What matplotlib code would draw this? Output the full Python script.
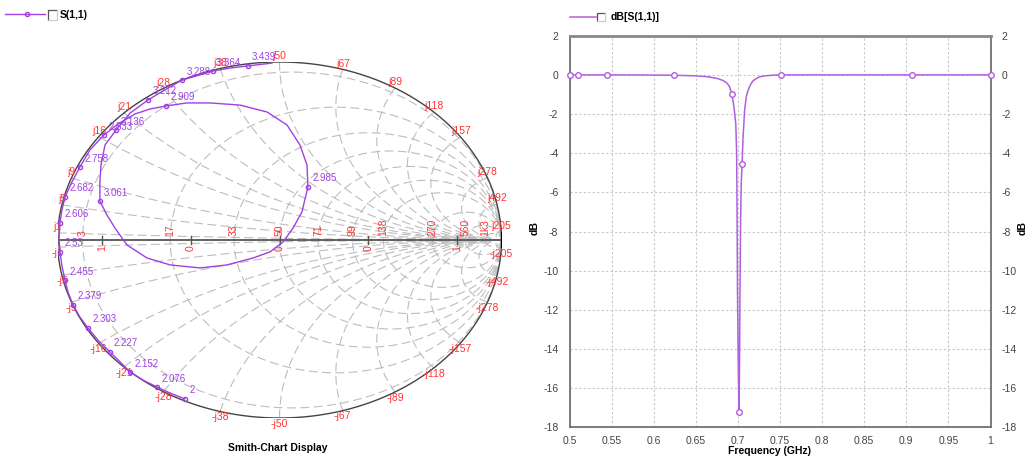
import numpy as np
import matplotlib
matplotlib.use("Agg")
import matplotlib.pyplot as plt
from matplotlib.lines import Line2D

plt.rcParams['font.family'] = ['Liberation Sans', 'DejaVu Sans']
plt.rcParams['axes.unicode_minus'] = False

# Smith chart grid (normalised to 50 ohm) and its labels
res_values = [0.06, 0.34, 0.66, 1.0, 1.42, 1.98, 2.76, 5.4, 11.2, 26.0]
res_labels = ["3", "17", "33", "50", "71", "99", "138", "270", "560", "1k3"]
react_values = [0.02, 0.1, 0.18, 0.32, 0.42, 0.56, 0.76, 1.0, 1.34, 1.78, 2.36, 3.14, 5.56, 9.84, 41.0]
react_labels = ["1", "5", "9", "16", "21", "28", "38", "50", "67", "89", "118", "157", "278", "492", "205"]
gamma_ticks = [-0.8, -0.4, 0.0, 0.4, 0.8]
gamma_tick_labels = ["1", "0", "0", "0", "1"]

# S(1,1) trace on the Smith chart (reflection coefficient)
s11_re = [-0.426, -0.493, -0.552, -0.615, -0.673, -0.718, -0.764, -0.818, -0.863, -0.899, -0.930,
          -0.953, -0.966, -0.980, -0.989, -0.993, -0.989, -0.980, -0.966, -0.935, -0.899,
          -0.854, -0.791, -0.727, -0.651, -0.583, -0.511,
          -0.417, -0.313, -0.178, -0.056, 0.034, 0.092, 0.124, 0.128, 0.101, 0.061, 0.016,
          -0.043, -0.119, -0.236, -0.358, -0.493, -0.597, -0.687, -0.741, -0.777, -0.809,
          -0.809, -0.804, -0.786, -0.736, -0.673, -0.592, -0.525, -0.439, -0.376, -0.300,
          -0.223, -0.142, -0.034]
s11_im = [-0.893, -0.860, -0.826, -0.787, -0.742, -0.685, -0.629, -0.562, -0.494, -0.433, -0.365,
          -0.292, -0.225, -0.146, -0.067, 0.011, 0.096, 0.169, 0.242, 0.326, 0.410,
          0.506, 0.590, 0.652, 0.708, 0.736, 0.753,
          0.770, 0.770, 0.758, 0.719, 0.646, 0.534, 0.421, 0.298, 0.157, 0.067, -0.011,
          -0.067, -0.101, -0.140, -0.157, -0.140, -0.101, -0.028, 0.067, 0.140, 0.219,
          0.326, 0.421, 0.534, 0.618, 0.713, 0.787, 0.837, 0.899, 0.921, 0.949,
          0.966, 0.978, 0.994]
marker_idx = [0, 2, 4, 6, 8, 10, 12, 14, 16, 18, 20, 22, 26, 34, 47, 51, 53, 55, 57, 59]
marker_labels = ["2", "2.076", "2.152", "2.227", "2.303", "2.379", "2.455", "2.53", "2.606",
                 "2.682", "2.758", "2.833", "2.909", "2.985", "3.061", "3.136", "3.212",
                 "3.288", "3.364", "3.439"]

# dB[S(1,1)] versus frequency
freq_ghz = [0.500, 0.510, 0.544, 0.600, 0.624, 0.650, 0.665, 0.675, 0.682, 0.687, 0.690, 0.693,
            0.6955, 0.6975, 0.6985, 0.699, 0.6995, 0.7005, 0.7012, 0.7018, 0.7025, 0.7032,
            0.704, 0.705, 0.706, 0.708, 0.710, 0.712, 0.715, 0.718, 0.724, 0.730, 0.740,
            0.751, 0.800, 0.850, 0.907, 0.950, 1.000]
s11_db = [0, 0, 0, -0.01, -0.02, -0.05, -0.1, -0.18, -0.28, -0.42, -0.6, -1.0,
          -1.7, -2.5, -4.0, -7.0, -11.0, -15.0, -17.2, -15.5, -11.0, -7.5,
          -5.5, -4.55, -3.3, -1.8, -1.1, -0.8, -0.5, -0.3, -0.13, -0.06, -0.02,
          0, 0, 0, 0, 0, 0]
db_marker_idx = [0, 1, 2, 4, 11, 18, 23, 33, 36, 38]

W, H = 1027, 459
PURPLE = '#a040e0'
PURPLE_DB = '#b060dd'
RED = '#ff3333'
GRID = '#bdbdbd'


def fx(px):
    return px / W


def fy(py):
    return 1 - py / H


def gamma(z):
    return (z - 1) / (z + 1)


fig = plt.figure(figsize=(W / 100, H / 100), dpi=100)

# ---------------- Smith chart ----------------
ax = fig.add_axes([fx(57.5), fy(418), 444 / W, 356 / H])
ax.set_xlim(-1, 1)
ax.set_ylim(-1, 1)
ax.axis('off')

s = np.linspace(-np.pi / 2 + 1e-4, np.pi / 2 - 1e-4, 600)
for r in res_values:
    g = gamma(r + 1j * np.tan(s))
    ax.plot(g.real, g.imag, color=GRID, lw=0.8, dashes=(8, 4), zorder=1)

t = np.linspace(0, np.pi / 2 - 1e-4, 600)
for x in react_values:
    for sign in (1, -1):
        g = gamma(np.tan(t) + 1j * sign * x)
        ax.plot(g.real, g.imag, color=GRID, lw=0.8, dashes=(8, 4), zorder=1)

th = np.linspace(0, 2 * np.pi, 720)
ax.plot(np.cos(th), np.sin(th), color='#444444', lw=1.0, zorder=2)
ax.plot([-1, 1], [0, 0], color='#555555', lw=1.3, zorder=2)
ax.plot([1, 1], [-0.04, 0.04], color='black', lw=1.5, zorder=2)
ax.plot([-1, -1], [-0.03, 0.03], color='#555555', lw=1.2, zorder=2)
for gt in gamma_ticks:
    ax.plot([gt, gt], [-0.02, 0.02], color='#555555', lw=1.0, zorder=2)

for r, lbl in zip(res_values, res_labels):
    ax.annotate(lbl, (gamma(r), 0), xytext=(0, 3), textcoords='offset points',
                rotation=90, ha='center', va='bottom', fontsize=7.5, color=RED)
for gt, lbl in zip(gamma_ticks, gamma_tick_labels):
    ax.annotate(lbl, (gt, 0), xytext=(0, -4), textcoords='offset points',
                rotation=90, ha='center', va='top', fontsize=7.5, color=RED)
for x, lbl in zip(react_values, react_labels):
    ge = gamma(1j * x)
    ax.annotate('j' + lbl, (ge.real, ge.imag), xytext=(0, 0.5), textcoords='offset points',
                ha='center', va='bottom', fontsize=7.5, color=RED, annotation_clip=False)
    ax.annotate('-j' + lbl, (ge.real, -ge.imag), xytext=(0, -0.5), textcoords='offset points',
                ha='center', va='top', fontsize=7.5, color=RED, annotation_clip=False)

ax.plot(s11_re, s11_im, color=PURPLE, lw=1.0, marker='o', ms=3, mfc='none', mec=PURPLE,
        mew=1.0, markevery=marker_idx, zorder=4, clip_on=False)
for i, lbl in zip(marker_idx, marker_labels):
    ax.annotate(lbl, (s11_re[i], s11_im[i]), xytext=(3, 2.5), textcoords='offset points',
                ha='left', va='bottom', fontsize=7, color=PURPLE, zorder=5)

fig.text(fx(278), fy(448), 'Smith-Chart Display', ha='center', va='center',
         fontsize=7.5, fontweight='bold')

# legend of the Smith chart
fig.add_artist(Line2D([fx(5), fx(45)], [fy(14), fy(14)], color=PURPLE, lw=1.0))
fig.add_artist(Line2D([fx(27)], [fy(14)], color=PURPLE, marker='o', ms=3, mfc='none', mew=1.0))
fig.add_artist(Line2D([fx(48), fx(48), fx(57)], [fy(20), fy(10), fy(10)], color='#555555', lw=0.9))
fig.add_artist(Line2D([fx(48), fx(57), fx(57)], [fy(20), fy(20), fy(10)], color='#cccccc', lw=0.9))
fig.text(fx(60), fy(15), 'S(1,1)', ha='left', va='center', fontsize=7.5, fontweight='bold')

# ---------------- dB plot ----------------
ad = fig.add_axes([fx(569.5), fy(427.3), 421 / W, 391.6 / H])
ad.plot(freq_ghz, s11_db, color=PURPLE_DB, lw=1.1, marker='o', ms=4, mfc='white',
        mec=PURPLE_DB, mew=1.0, markevery=db_marker_idx, clip_on=False, zorder=3)
ad.set_xlim(0.5, 1.0)
ad.set_ylim(-18, 2)
xt = np.round(np.arange(0.5, 1.0001, 0.05), 2)
ad.set_xticks(xt)
ad.set_xticklabels([('%g' % v) for v in xt])
ad.set_yticks(np.arange(-18, 3, 2))
ad.tick_params(axis='both', length=0, labelsize=7.5, labelcolor='#444444')
ad.tick_params(axis='y', right=True, labelright=True, pad=8)
ad.tick_params(axis='x', pad=6)
ad.grid(True, color='#c8c8c8', lw=0.8, linestyle=(0, (2, 2)))
for sp in ad.spines.values():
    sp.set_color('#666666')
    sp.set_linewidth(1.2)
ad.spines['top'].set_linewidth(2.0)
ad.spines['top'].set_color('#888888')

fig.text(fx(770), fy(451), 'Frequency (GHz)', ha='center', va='center',
         fontsize=7.5, fontweight='bold')
fig.text(fx(535), fy(228), 'dB', ha='center', va='center', rotation=90,
         fontsize=7.5, fontweight='bold')
fig.text(fx(1023), fy(228), 'dB', ha='center', va='center', rotation=90,
         fontsize=7.5, fontweight='bold')

# legend of the dB plot
fig.add_artist(Line2D([fx(570), fx(596)], [fy(17), fy(17)], color=PURPLE_DB, lw=1.1))
fig.add_artist(Line2D([fx(597), fx(597), fx(605)], [fy(21), fy(13), fy(13)], color='#555555', lw=0.9))
fig.add_artist(Line2D([fx(597), fx(605), fx(605)], [fy(21), fy(21), fy(13)], color='#cccccc', lw=0.9))
fig.text(fx(611), fy(17), 'dB[S(1,1)]', ha='left', va='center', fontsize=7.5, fontweight='bold')

fig.savefig('out.png', dpi=100)
